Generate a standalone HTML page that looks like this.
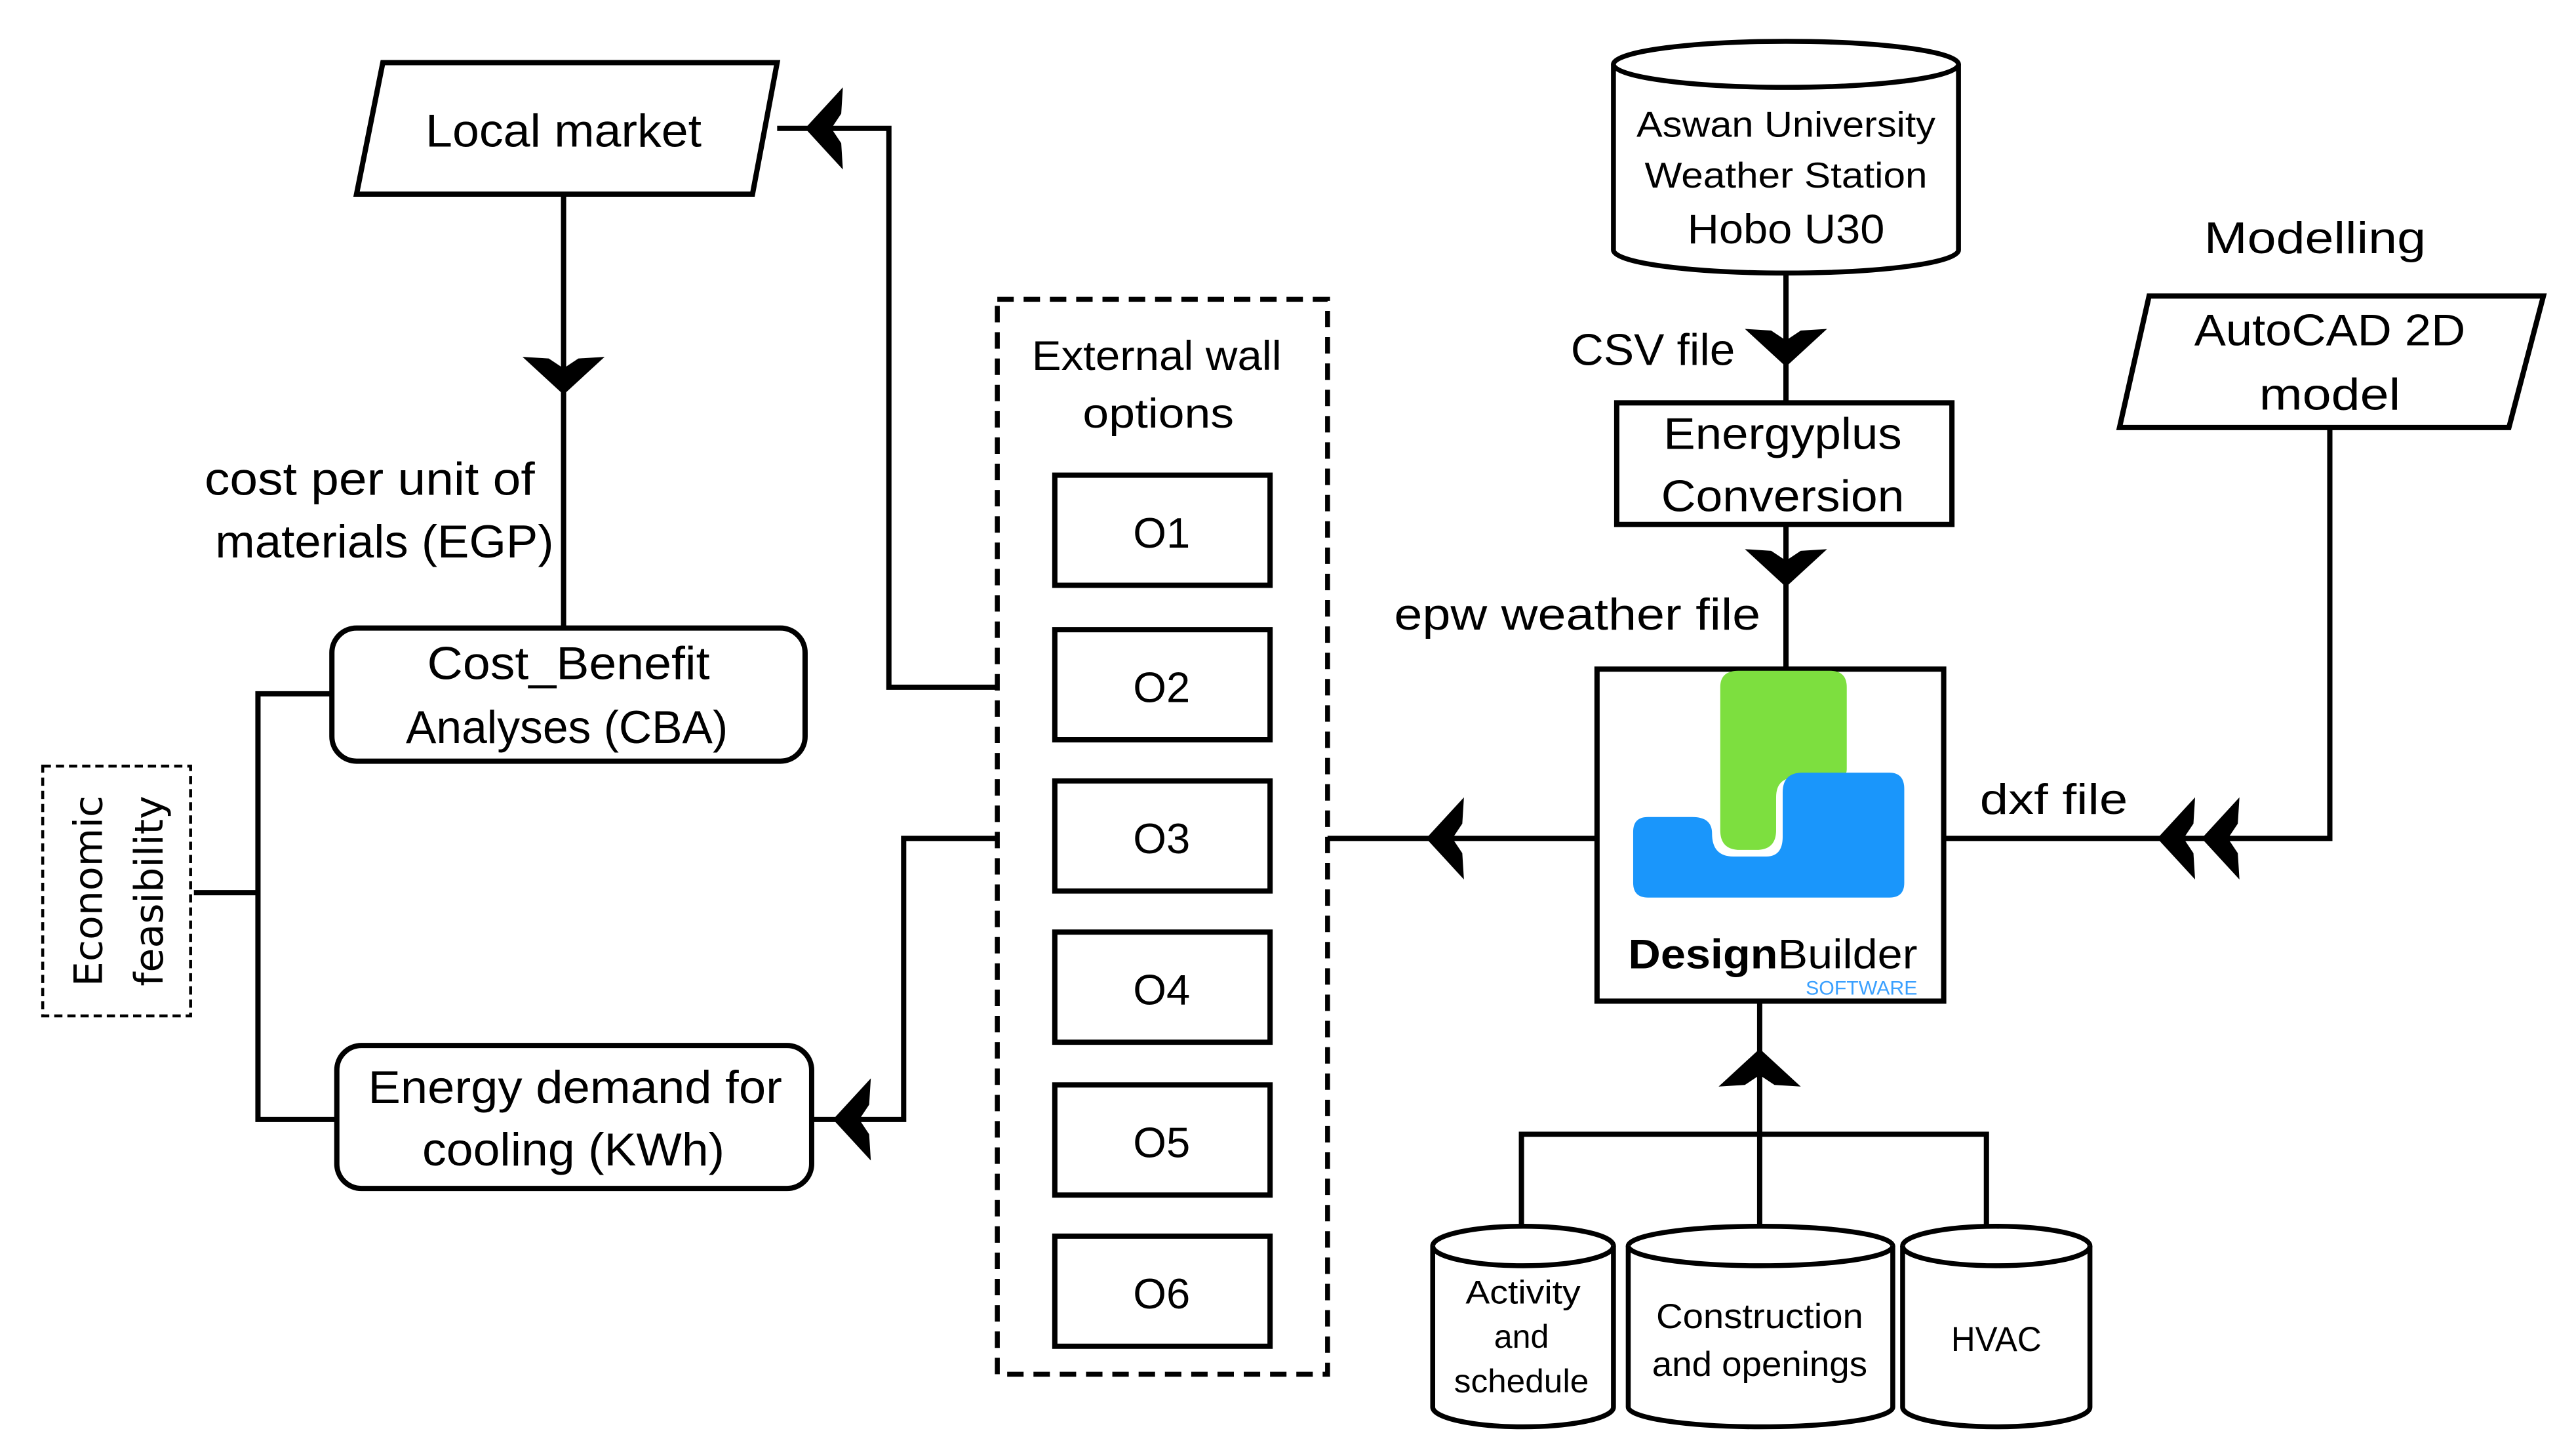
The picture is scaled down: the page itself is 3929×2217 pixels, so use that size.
<!DOCTYPE html>
<html><head><meta charset="utf-8"><style>html,body{margin:0;padding:0;background:#fff}svg{display:block}</style></head>
<body>
<svg width="3929" height="2217" viewBox="0 0 1560 880" xmlns="http://www.w3.org/2000/svg" font-family="'Liberation Sans', sans-serif" fill="none" stroke="#000">
<defs>
<path id="ah" d="M0,0 L23,-25 L22,-9 L16,0 L22,9 L23,25 Z" fill="#000" stroke="none"/>
</defs>
<g transform="scale(0.995)">
<g stroke-width="3.2">
<polygon points="233,38 473,38 458,118 217,118"/>
<line x1="343" y1="118" x2="343" y2="382"/>
<rect x="202" y="382" width="288" height="81" rx="15"/>
<rect x="205" y="636" width="289" height="87" rx="15"/>
<polyline points="202,422 157,422 157,681 205,681"/>
<line x1="118" y1="543" x2="157" y2="543"/>
<polyline points="607,418 541,418 541,78 473,78"/>
<polyline points="607,510 550,510 550,681 494,681"/>
<rect x="642" y="289" width="131" height="67"/>
<rect x="642" y="383" width="131" height="67"/>
<rect x="642" y="475" width="131" height="67"/>
<rect x="642" y="567" width="131" height="67"/>
<rect x="642" y="660" width="131" height="67"/>
<rect x="642" y="752" width="131" height="67"/>
<line x1="972" y1="510" x2="808" y2="510"/>
<rect x="972" y="407" width="211" height="202"/>
<line x1="1087" y1="165" x2="1087" y2="245"/>
<rect x="984" y="245" width="204" height="74"/>
<line x1="1087" y1="319" x2="1087" y2="407"/>
<polygon points="1308,180 1548,180 1527,260 1290,260"/>
<polyline points="1418,260 1418,510 1183,510"/>
<line x1="1071" y1="609" x2="1071" y2="748"/>
<polyline points="926,750 926,690 1209,690 1209,750"/>
</g>
<rect x="607" y="182" width="201" height="654" stroke-width="3" stroke-dasharray="10,6"/>
<rect x="26" y="466" width="90" height="152" stroke-width="1.8" stroke-dasharray="5,3"/>
<g stroke-width="3" fill="#fff">
<path d="M982,39 A105,14 0 0 1 1192,39 L1192,152 A105,14 0 0 1 982,152 Z"/>
<path d="M982,39 A105,14 0 0 0 1192,39"/>
<path d="M872,758 A55,12 0 0 1 982,758 L982,856 A55,12 0 0 1 872,856 Z"/>
<path d="M872,758 A55,12 0 0 0 982,758"/>
<path d="M991,758 A80.5,12 0 0 1 1152,758 L1152,856 A80.5,12 0 0 1 991,856 Z"/>
<path d="M991,758 A80.5,12 0 0 0 1152,758"/>
<path d="M1158,758 A57,12 0 0 1 1272,758 L1272,856 A57,12 0 0 1 1158,856 Z"/>
<path d="M1158,758 A57,12 0 0 0 1272,758"/>
</g>
<use href="#ah" transform="translate(343,240) rotate(-90)"/>
<use href="#ah" transform="translate(490,78)"/>
<use href="#ah" transform="translate(507,681)"/>
<use href="#ah" transform="translate(868,510)"/>
<use href="#ah" transform="translate(1087,223) rotate(-90)"/>
<use href="#ah" transform="translate(1087,357) rotate(-90)"/>
<use href="#ah" transform="translate(1313,510)"/>
<use href="#ah" transform="translate(1340,510)"/>
<use href="#ah" transform="translate(1071,638) rotate(90)"/>
<path d="M1058,408 H1114 Q1124,408 1124,418 V468 Q1124,473 1118,473 H1093 Q1081,473 1081,485 V505 Q1081,517 1069,517 H1059 Q1047,517 1047,505 V418 Q1047,408 1058,408 Z" fill="#7ddf3f" stroke="none"/>
<path d="M1003,497 H1030 Q1042,497 1042,507 Q1042,521 1055,521 H1075 Q1085,521 1085,509 V482 Q1085,470 1097,470 H1150 Q1159,470 1159,480 V537 Q1159,546 1150,546 H1003 Q994,546 994,537 V506 Q994,497 1003,497 Z" fill="#1a96fb" stroke="none"/>
<g fill="#000" stroke="none" text-anchor="middle" lengthAdjust="spacingAndGlyphs">
<text x="343" y="89" font-size="28" textLength="168" lengthAdjust="spacingAndGlyphs">Local market</text>
<text x="225" y="301" font-size="28" textLength="201" lengthAdjust="spacingAndGlyphs">cost per unit of</text>
<text x="234" y="339" font-size="28" textLength="206" lengthAdjust="spacingAndGlyphs">materials (EGP)</text>
<text x="346" y="413" font-size="28" textLength="172" lengthAdjust="spacingAndGlyphs">Cost_Benefit</text>
<text x="345" y="452" font-size="28" textLength="196" lengthAdjust="spacingAndGlyphs">Analyses (CBA)</text>
<text x="350" y="671" font-size="28" textLength="252" lengthAdjust="spacingAndGlyphs">Energy demand for</text>
<text x="349" y="709" font-size="28" textLength="184" lengthAdjust="spacingAndGlyphs">cooling (KWh)</text>
<text font-family="'DejaVu Sans', sans-serif" font-size="24" transform="translate(62,542) rotate(-90)">Economic</text>
<text font-family="'DejaVu Sans', sans-serif" font-size="24" transform="translate(99,542) rotate(-90)">feasibility</text>
<text x="704" y="225" font-size="25" textLength="152" lengthAdjust="spacingAndGlyphs">External wall</text>
<text x="705" y="260" font-size="25" textLength="92" lengthAdjust="spacingAndGlyphs">options</text>
<text x="707" y="333" font-size="26">O1</text>
<text x="707" y="427" font-size="26">O2</text>
<text x="707" y="519" font-size="26">O3</text>
<text x="707" y="611" font-size="26">O4</text>
<text x="707" y="704" font-size="26">O5</text>
<text x="707" y="796" font-size="26">O6</text>
<text x="1087" y="83" font-size="22" textLength="182" lengthAdjust="spacingAndGlyphs">Aswan University</text>
<text x="1087" y="114" font-size="22" textLength="172" lengthAdjust="spacingAndGlyphs">Weather Station</text>
<text x="1087" y="148" font-size="25" textLength="120" lengthAdjust="spacingAndGlyphs">Hobo U30</text>
<text x="1006" y="222" font-size="27" textLength="100" lengthAdjust="spacingAndGlyphs">CSV file</text>
<text x="1085" y="273" font-size="27" textLength="145" lengthAdjust="spacingAndGlyphs">Energyplus</text>
<text x="1085" y="311" font-size="27" textLength="148" lengthAdjust="spacingAndGlyphs">Conversion</text>
<text x="960" y="383" font-size="27" textLength="223" lengthAdjust="spacingAndGlyphs">epw weather file</text>
<text x="1409" y="154" font-size="27" textLength="135" lengthAdjust="spacingAndGlyphs">Modelling</text>
<text x="1418" y="210" font-size="27" textLength="165" lengthAdjust="spacingAndGlyphs">AutoCAD 2D</text>
<text x="1418" y="249" font-size="27" textLength="86" lengthAdjust="spacingAndGlyphs">model</text>
<text x="1250" y="495" font-size="26" textLength="90" lengthAdjust="spacingAndGlyphs">dxf file</text>
<text x="1079" y="589" font-size="25" textLength="176" lengthAdjust="spacingAndGlyphs"><tspan font-weight="bold">Design</tspan>Builder</text>
<text x="1133" y="605" font-size="12" fill="#3aa0ff" textLength="68" lengthAdjust="spacingAndGlyphs">SOFTWARE</text>
<text x="927" y="793" font-size="20" textLength="70" lengthAdjust="spacingAndGlyphs">Activity</text>
<text x="926" y="820" font-size="20">and</text>
<text x="926" y="847" font-size="20" textLength="82" lengthAdjust="spacingAndGlyphs">schedule</text>
<text x="1071" y="808" font-size="21" textLength="126" lengthAdjust="spacingAndGlyphs">Construction</text>
<text x="1071" y="837" font-size="21" textLength="131" lengthAdjust="spacingAndGlyphs">and openings</text>
<text x="1215" y="822" font-size="21" textLength="55" lengthAdjust="spacingAndGlyphs">HVAC</text>
</g>
</g>
</svg>
</body></html>
